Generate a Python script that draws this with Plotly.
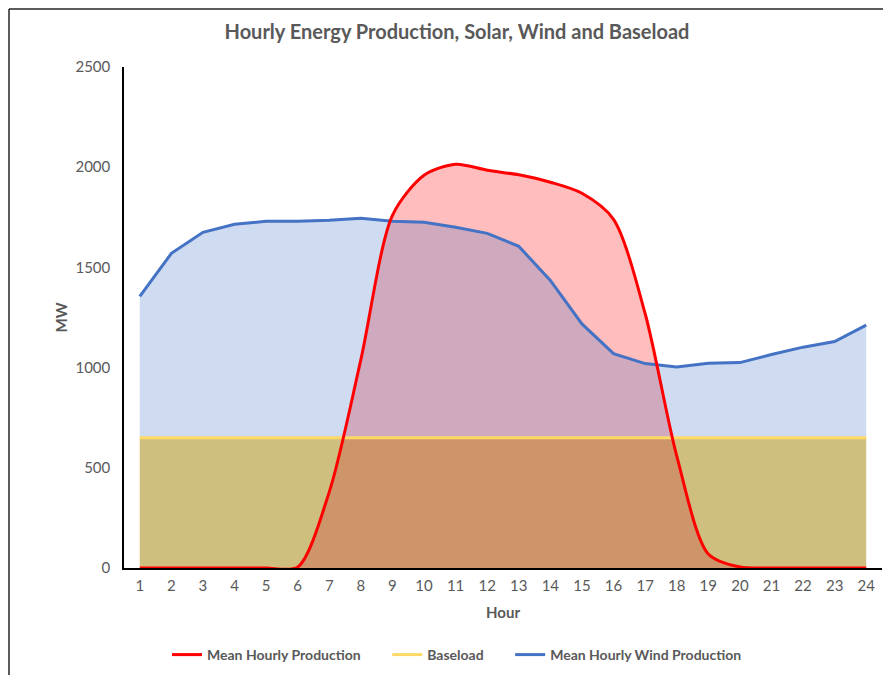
import plotly.graph_objects as go

hours = list(range(1, 25))
solar = [0, 0, 0, 0, 0, 5, 380, 1040, 1760, 1960, 2015, 1985, 1962, 1925, 1870, 1740,
         1270, 560, 70, 5, 0, 0, 0, 0]
wind = [1355, 1570, 1675, 1715, 1730, 1730, 1735, 1745, 1730, 1725, 1700, 1670, 1605,
        1435, 1218, 1070, 1020, 1003, 1022, 1025, 1065, 1102, 1130, 1212]
baseload = [650] * 24
y_ticks = [0, 500, 1000, 1500, 2000, 2500]

FONT = "Lato, Carlito, sans-serif"
GRAY = "#595959"
PAD = "\u00a0" * 6
OFF = 8  # page body margin

fig = go.Figure()
# fills (order: baseload, solar, wind)
fig.add_trace(go.Scatter(x=hours, y=baseload, fill="tozeroy", mode="none",
                         fillcolor="rgb(255,217,102)", showlegend=False, hoverinfo="skip"))
fig.add_trace(go.Scatter(x=hours, y=solar, fill="tozeroy", mode="lines",
                         line=dict(width=0, shape="spline", smoothing=0.8, color="rgba(0,0,0,0)"),
                         fillcolor="rgba(255,0,0,0.26)", showlegend=False, hoverinfo="skip"))
fig.add_trace(go.Scatter(x=hours, y=wind, fill="tozeroy", mode="none",
                         fillcolor="rgba(68,114,196,0.26)", showlegend=False, hoverinfo="skip"))
# lines
fig.add_trace(go.Scatter(x=hours, y=wind, mode="lines", name="<b>Mean Hourly Wind Production</b>",
                         line=dict(color="#4472C4", width=3), legendrank=3))
fig.add_trace(go.Scatter(x=hours, y=baseload, mode="lines", name="<b>Baseload</b>" + PAD,
                         line=dict(color="#FFD966", width=3), legendrank=2))
fig.add_trace(go.Scatter(x=hours, y=solar, mode="lines", name="<b>Mean Hourly Production</b>" + PAD,
                         line=dict(color="#FF0000", width=3, shape="spline", smoothing=0.8),
                         legendrank=1))

W, H = 891, 675
L, T = 124 - OFF, 67 - OFF
PW, PH = 758, 501
fig.update_layout(
    width=W, height=H,
    margin=dict(l=L, r=W - L - PW, t=T, b=H - T - PH, autoexpand=False),
    paper_bgcolor="white", plot_bgcolor="white",
    font=dict(family=FONT, color=GRAY, size=15),
    title=dict(text="<b>Hourly Energy Production, Solar, Wind and Baseload</b>",
               x=(457 - OFF) / W, xanchor="center", y=1 - (32 - OFF) / H, yanchor="middle",
               font=dict(size=20, color=GRAY, family=FONT)),
    xaxis=dict(range=[0.5, 24.5], tickmode="array", tickvals=hours,
               ticktext=[str(h) for h in hours], showgrid=False, zeroline=False,
               showline=True, linecolor="black", linewidth=1.5, automargin=False,
               ticks="outside", ticklen=3, tickcolor="rgba(0,0,0,0)",
               tickfont=dict(size=15, color=GRAY),
               title=dict(text="<b>Hour</b>", standoff=15, font=dict(size=15, color=GRAY))),
    yaxis=dict(range=[0, 2500], tickmode="array", tickvals=y_ticks,
               ticktext=[str(v) for v in y_ticks], showgrid=False, zeroline=False,
               showline=True, linecolor="black", linewidth=1.5, automargin=False,
               ticks="outside", ticklen=9, tickcolor="rgba(0,0,0,0)",
               tickfont=dict(size=15, color=GRAY),
               title=dict(text="<b>MW</b>", standoff=4, font=dict(size=15, color=GRAY))),
    legend=dict(orientation="h", x=(457 - OFF) / W, xref="container", xanchor="center",
                y=1 - (655 - OFF) / H, yref="container", yanchor="middle",
                font=dict(size=14, color=GRAY, family=FONT), itemwidth=30,
                bgcolor="rgba(0,0,0,0)"),
    showlegend=True,
    shapes=[
        dict(type="line", xref="paper", yref="paper", x0=(1 - L) / PW, x1=(1 - L) / PW,
             y0=(T + PH - 1) / PH, y1=(T + PH - 700) / PH, line=dict(color="#262626", width=1.5)),
        dict(type="line", xref="paper", yref="paper", x0=(1 - L) / PW, x1=(900 - L) / PW,
             y0=(T + PH - 1) / PH, y1=(T + PH - 1) / PH, line=dict(color="#262626", width=1.5)),
    ],
)
fig.write_html("out.html")
